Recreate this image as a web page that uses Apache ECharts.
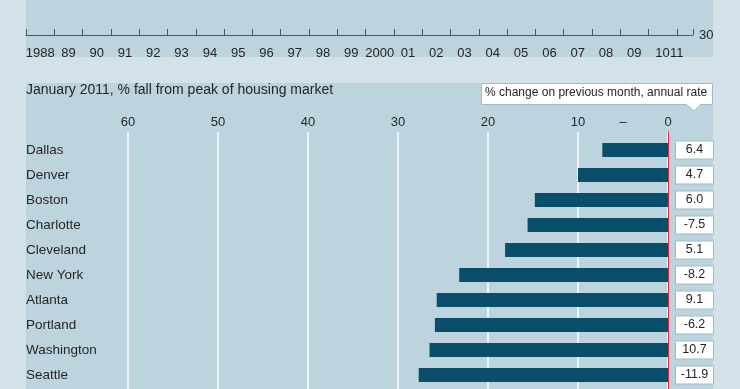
<!DOCTYPE html>
<html><head><meta charset="utf-8">
<script src="https://cdn.jsdelivr.net/npm/echarts@6/dist/echarts.min.js"></script>
<style>html,body{margin:0;padding:0;background:#d3e2e9}#c{width:740px;height:389px}</style>
</head><body><div id="c"></div>
<script>
const years = ['1988','89','90','91','92','93','94','95','96','97','98','99','2000','01','02','03','04','05','06','07','08','09','10','11'];
const cities = ['Dallas','Denver','Boston','Charlotte','Cleveland','New York','Atlanta','Portland','Washington','Seattle'];
const fallFromPeak = [7.3, 10.0, 14.8, 15.6, 18.1, 23.2, 25.7, 25.9, 26.5, 27.7];
const monthlyChange = ['6.4','4.7','6.0','-7.5','5.1','-8.2','9.1','-6.2','10.7','-11.9'];
const topAxisValue = 30;

const FONT = 'Liberation Sans';
const TXT = '#262626';
const chart = echarts.init(document.getElementById('c'), null, {renderer: 'canvas'});
chart.setOption({
  backgroundColor: '#d3e2e9',
  animation: false,
  textStyle: {fontFamily: FONT},
  title: {text: 'January 2011, % fall from peak of housing market', left: 26, top: 83, padding: 0,
    textStyle: {fontFamily: FONT, fontSize: 14, fontWeight: 'normal', color: TXT}},
  graphic: [
    {type: 'rect', z: -10, shape: {x: 26, y: 0, width: 687, height: 57}, style: {fill: '#bdd4de'}},
    {type: 'rect', z: -10, shape: {x: 26, y: 83, width: 687, height: 320}, style: {fill: '#bdd4de'}},
    {type: 'polygon', z: 5, shape: {points: [[686, 104], [701, 104], [694, 111]]}, style: {fill: '#fff', stroke: '#9dbccb', lineWidth: 1}},
    {type: 'rect', z: 5, shape: {x: 481.5, y: 83.5, width: 231, height: 21}, style: {fill: '#fff', stroke: '#9dbccb', lineWidth: 1}},
    {type: 'rect', z: 6, shape: {x: 687, y: 103, width: 13, height: 2}, style: {fill: '#fff'}},
    {type: 'text', z: 7, left: 485, top: 87, style: {text: '% change on previous month, annual rate', font: '12px "Liberation Sans"', fill: TXT}}
  ],
  grid: [
    {left: 26, right: 47, top: 0, height: 35},
    {left: 26, right: 35, top: 0, height: 35},
    {left: 128, right: 72, top: 132, bottom: 0},
    {left: 128, right: 72, top: 137.5, height: 250}
  ],
  xAxis: [
    {gridIndex: 0, type: 'value', min: 1988, max: 2011.57, interval: 1,
      axisLine: {show: true, lineStyle: {color: '#555', width: 1}},
      axisTick: {show: true, inside: true, length: 6, lineStyle: {color: '#555'}},
      axisLabel: {show: false}, splitLine: {show: false}},
    {gridIndex: 1, type: 'category', data: years, boundaryGap: true,
      axisLine: {show: false}, axisTick: {show: false},
      axisLabel: {margin: 12, fontSize: 13, color: TXT, fontFamily: FONT, interval: 0,
        formatter: v => v === '11' ? '{s|11}' : v,
        rich: {s: {fontSize: 13, color: TXT, fontFamily: FONT, padding: [0, 28, 0, 0]}}}},
    {gridIndex: 2, type: 'value', min: 0, max: 60, interval: 10, inverse: true,
      axisLine: {show: false}, axisTick: {show: false}, axisLabel: {show: false},
      splitLine: {show: true, lineStyle: {color: '#ffffff', width: 1.5}}},
    {gridIndex: 3, type: 'value', min: 0, max: 60, interval: 5, inverse: true, position: 'top',
      axisLine: {show: false}, axisTick: {show: false}, splitLine: {show: false},
      axisLabel: {margin: 9, fontSize: 13, color: TXT, fontFamily: FONT,
        formatter: v => v % 10 === 0 ? String(v) : (v === 5 ? '–' : '')}}
  ],
  yAxis: [
    {gridIndex: 0, type: 'value', min: topAxisValue, max: 40, interval: 10, position: 'right',
      axisLine: {show: false}, axisTick: {show: false}, splitLine: {show: false},
      axisLabel: {margin: 6, fontSize: 13, color: TXT, fontFamily: FONT,
        formatter: v => v === topAxisValue ? String(v) : ''}},
    {gridIndex: 1, type: 'value', show: false},
    {gridIndex: 2, type: 'value', position: 'right',
      axisLine: {show: true, onZero: false, lineStyle: {color: '#e3283b', width: 1}},
      axisTick: {show: false}, axisLabel: {show: false}, splitLine: {show: false}},
    {gridIndex: 3, type: 'category', data: cities, inverse: true,
      axisLine: {show: false}, axisTick: {show: false},
      axisLabel: {align: 'left', margin: 102, fontSize: 13.5, color: TXT, fontFamily: FONT}},
    {gridIndex: 3, type: 'category', data: monthlyChange, inverse: true, position: 'right',
      axisLine: {show: false}, axisTick: {show: false},
      axisLabel: {margin: 8, formatter: v => '{b|' + v + '}',
        rich: {b: {width: 29, align: 'center', fontSize: 12.5, lineHeight: 13, color: TXT, fontFamily: FONT,
          backgroundColor: '#ffffff', borderColor: '#9dbccb', borderWidth: 1, padding: [2, 4]}}}}
  ],
  series: [
    {type: 'bar', xAxisIndex: 3, yAxisIndex: 3, data: fallFromPeak, barWidth: 14,
      itemStyle: {color: '#0a4f69'}, silent: true}
  ]
});
</script></body></html>
